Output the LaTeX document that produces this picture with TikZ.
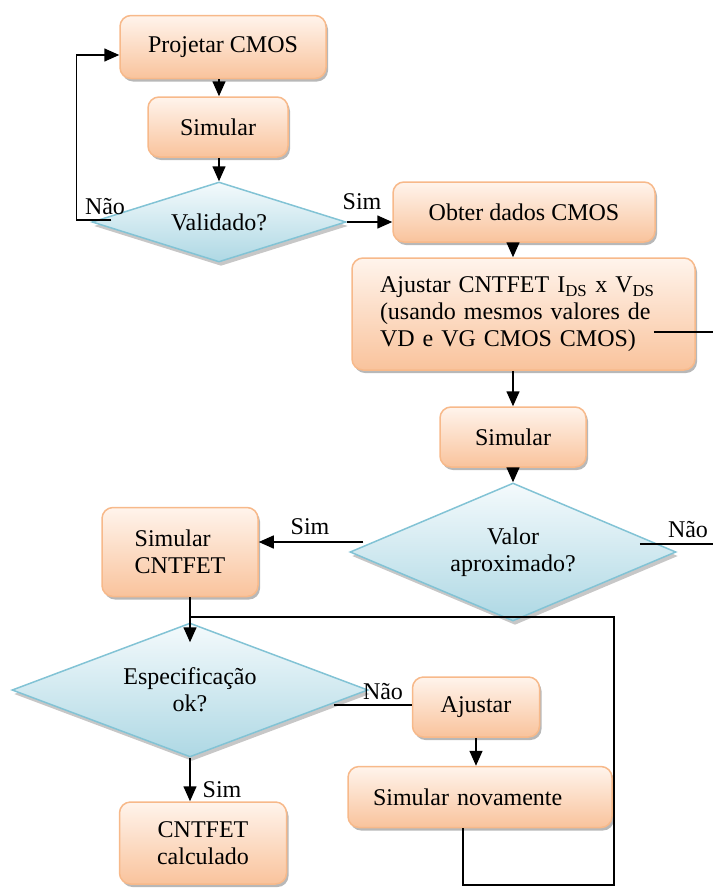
\documentclass[tikz,border=0pt]{standalone}
\usepackage{fontspec}
\setmainfont{Liberation Serif}
\usetikzlibrary{shapes.geometric,arrows.meta,shadows}
\definecolor{boxborder}{HTML}{F7B98A}
\definecolor{boxtop}{HTML}{FFF4EC}
\definecolor{boxbot}{HTML}{F9C39C}
\definecolor{dborder}{HTML}{82C3D5}
\definecolor{dtop}{HTML}{F4FAFC}
\definecolor{dbot}{HTML}{AED8E4}
\tikzset{
  procbox/.style={rectangle, rounded corners=11pt, draw=boxborder, line width=1.5pt,
    top color=boxtop, bottom color=boxbot,
    drop shadow={shadow xshift=2pt, shadow yshift=-3pt, fill=black, opacity=0.28},
    inner sep=0pt, font=\fontsize{24}{27}\selectfont, align=center},
  decision/.style={diamond, draw=dborder, line width=1.5pt,
    top color=dtop, bottom color=dbot,
    drop shadow={shadow xshift=2pt, shadow yshift=-4pt, fill=black, opacity=0.22},
    inner sep=0pt, font=\fontsize{24}{27}\selectfont, align=center},
  arr/.style={line width=1.5pt, -{Triangle[length=15pt,width=13pt]}},
  conn/.style={line width=1.2pt},
  lbl/.style={font=\fontsize{24}{27}\selectfont, inner sep=0pt}
}
\begin{document}
\begin{tikzpicture}[x=1pt,y=-1pt]
\useasboundingbox (0,0) rectangle (713,892);

\node[procbox, minimum width=206pt, minimum height=63pt] (proj) at (223,47) {Projetar CMOS};
\node[procbox, minimum width=140pt, minimum height=60pt] (sim1) at (218,127) {Simular};
\node[decision, minimum width=254pt, minimum height=80pt, aspect=3.2] (val) at (219,222) {Validado?};
\node[procbox, minimum width=262pt, minimum height=60pt] (obt) at (524,212) {Obter dados CMOS};
\node[procbox, minimum width=343pt, minimum height=112pt, text width=287pt, align=left] (adj) at (523.5,314)
  {Ajustar CNTFET I\textsubscript{DS} x V\textsubscript{DS}\\(usando mesmos valores de\\VD e VG CMOS CMOS)};
\node[procbox, minimum width=146pt, minimum height=60pt] (sim2) at (513,437) {Simular};
\node[decision, minimum width=326pt, minimum height=138pt, aspect=2.36] (apr) at (513,552) {Valor\\aproximado?};
\node[procbox, minimum width=156pt, minimum height=89pt, align=left] (scnt) at (180,552) {Simular\\CNTFET};
\node[decision, minimum width=356pt, minimum height=134pt, aspect=2.66] (spec) at (190,690) {Especificação\\ok?};
\node[procbox, minimum width=127pt, minimum height=60pt] (ajs) at (476,707) {Ajustar};
\node[procbox, minimum width=264pt, minimum height=61pt, text width=214pt, align=left] (snov) at (480,797) {Simular novamente};
\node[procbox, minimum width=167pt, minimum height=82pt] (calc) at (203,843) {CNTFET\\calculado};

% labels
\node[lbl] (lno1) at (105,207) {Não};
\node[lbl] (lsim1) at (362,202) {Sim};
\node[lbl] (lno2) at (688,530) {Não};
\node[lbl] (lsim2) at (310,527) {Sim};
\node[lbl] (lno3) at (383,692) {Não};
\node[lbl] (lsim3) at (222,790) {Sim};

% helper coordinates
\coordinate (edgeR) at (713,0);
\coordinate (jy) at (0,617);
\coordinate (junc) at (spec.north |- jy);
\coordinate (loopR) at (614,885);
\coordinate (adjstub) at ([xshift=-42pt,yshift=-18pt]adj.east);
\coordinate (aprstub) at ([xshift=-37pt,yshift=8pt]apr.east);
\coordinate (aprw) at ([xshift=14pt,yshift=10pt]apr.west);
\coordinate (specr) at ([xshift=-35pt,yshift=-15pt]spec.east);

% connectors
\draw[arr] (proj.south -| val.north) -- (sim1.north -| val.north);
\draw[arr] (sim1.south -| val.north) -- (val.north);
\draw[arr] ([xshift=20pt,yshift=2pt]val.west) -| ([xshift=-43pt,yshift=-8pt]proj.west) -- ([yshift=-8pt]proj.west);
\draw[arr] (val.east) -- (obt.west |- val.east);
\draw[arr] (obt.south -| sim2.north) -- (adj.north -| sim2.north);
\draw[conn] (adjstub) -- (adjstub -| edgeR);
\draw[arr] (adj.south -| sim2.north) -- (sim2.north);
\draw[arr] (sim2.south) -- (sim2.south |- apr.north);
\draw[conn] (aprstub) -- (aprstub -| edgeR);
\draw[arr] (aprw) -- (aprw -| scnt.east);
\draw[arr] (scnt.south -| spec.north) -- ([yshift=-20pt]spec.north);
\draw[conn] ([xshift=-17pt]snov.south) |- (loopR) |- (junc);
\draw[conn] (specr) -- (specr -| ajs.west);
\draw[arr] (ajs.south) -- (ajs.south |- snov.north);
\draw[arr] (spec.south) -- (spec.south |- calc.north);
\end{tikzpicture}
\end{document}
